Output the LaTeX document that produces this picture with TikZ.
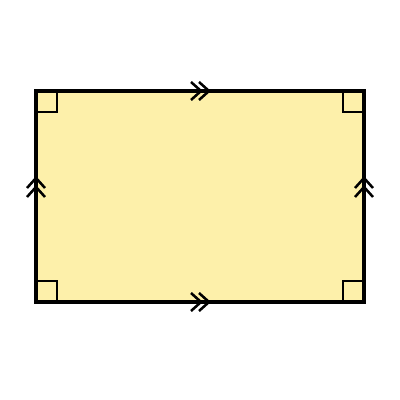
\documentclass[tikz,border=0pt]{standalone}
\usepackage{tikz}
\definecolor{rectfill}{RGB}{253,240,170}

\begin{document}
\begin{tikzpicture}[x=0.025cm,y=-0.025cm]
\useasboundingbox (0,0) rectangle (400,400);
\coordinate (tl) at (36,91);
\coordinate (br) at (364,302);
\draw[fill=rectfill, line width=2.3pt] (tl) rectangle (br);

\begin{scope}[line width=1.7pt]
	\draw (36,91) rectangle ++(21,21);
	\draw (364,91) rectangle ++(-21,21);
	\draw (36,302) rectangle ++(21,-21);
	\draw (364,302) rectangle ++(-21,-21);
\end{scope}

\begin{scope}[line width=1.8pt, line join=miter]
	\foreach \d in {0,8} {
		\draw (191+\d,82) -- (201+\d,91) -- (191+\d,100);
		\draw (191+\d,293) -- (201+\d,302) -- (191+\d,311);
	}
	\foreach \d in {0,9} {
		\draw (27,188+\d) -- (36,178+\d) -- (45,188+\d);
		\draw (355,188+\d) -- (364,178+\d) -- (373,188+\d);
	}
\end{scope}
\end{tikzpicture}
\end{document}
